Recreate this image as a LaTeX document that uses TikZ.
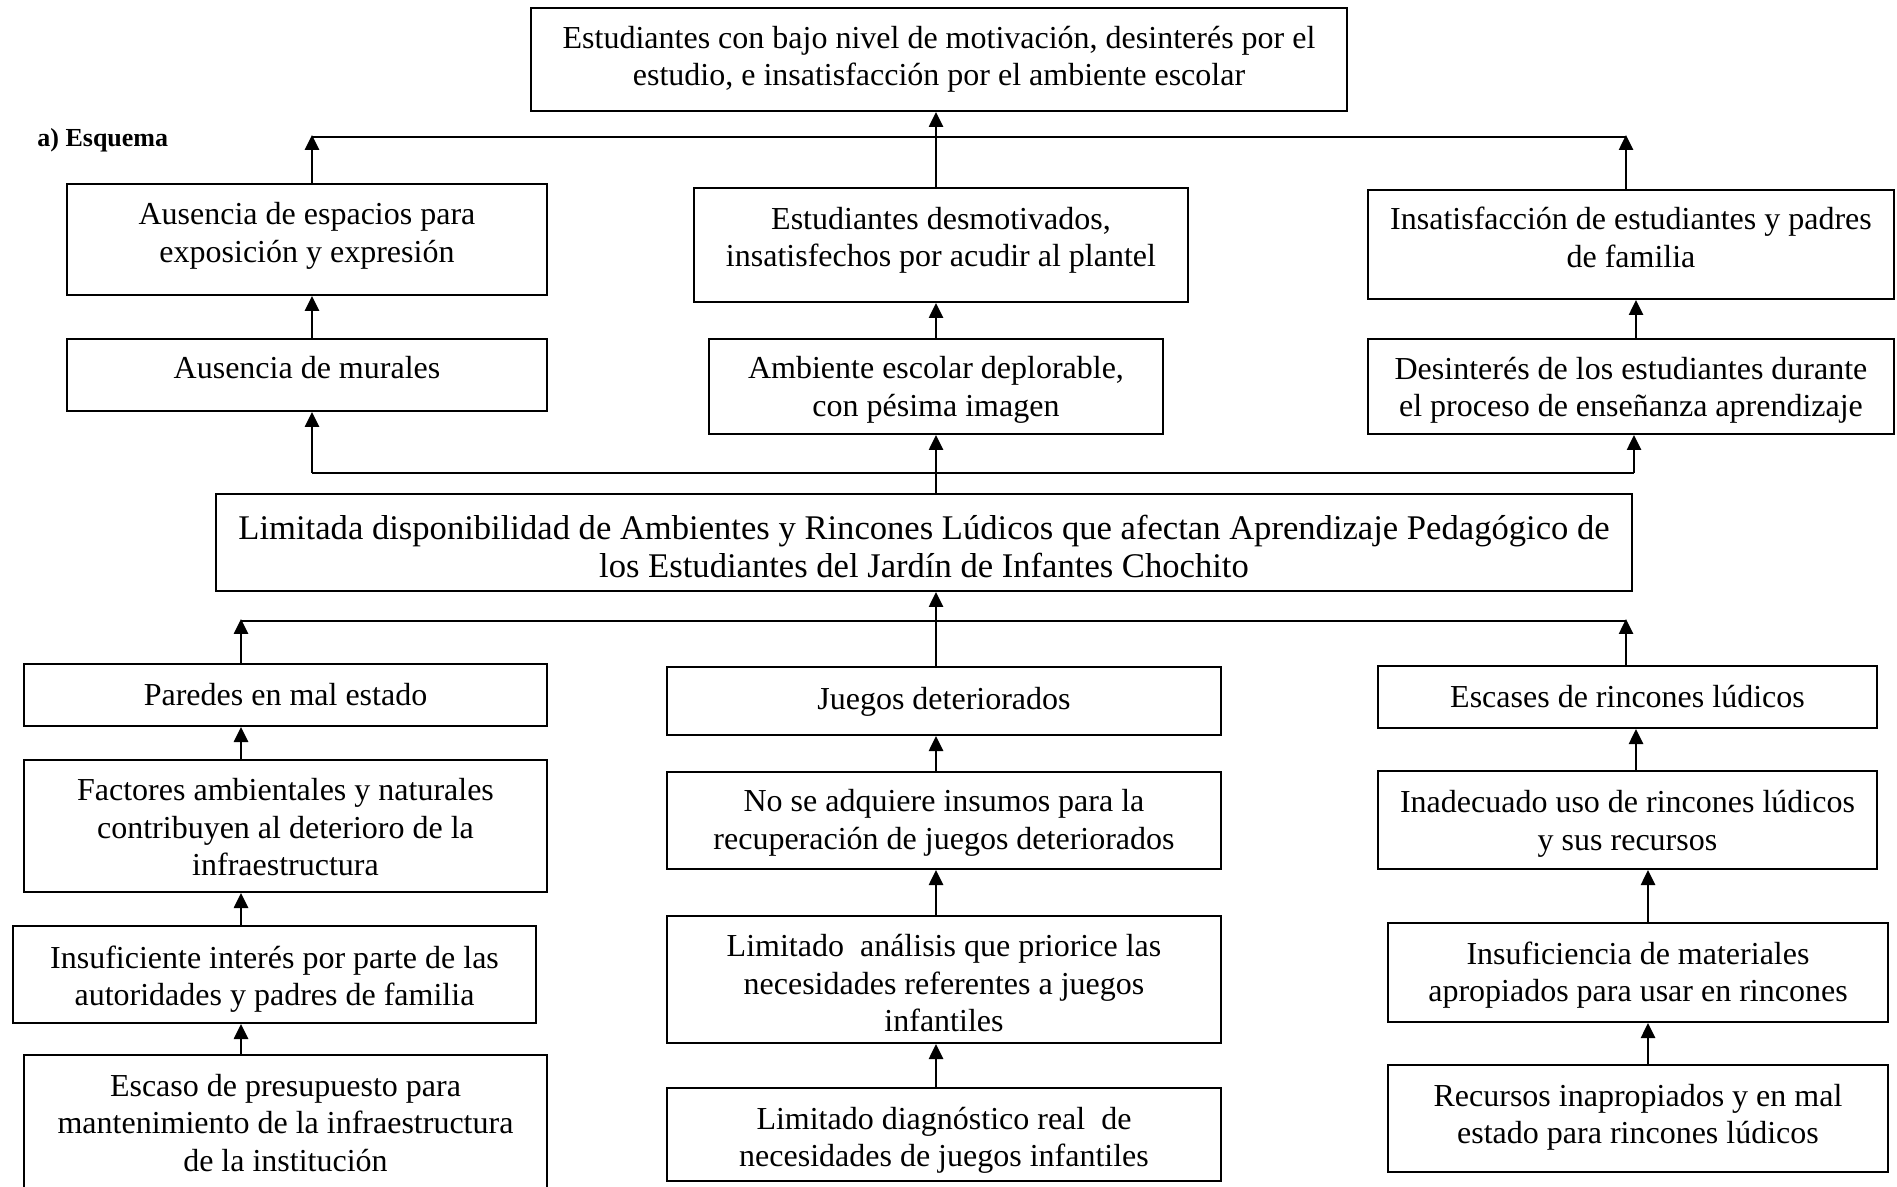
\documentclass[tikz,border=0pt]{standalone}
\usepackage{fontspec}
\setmainfont{Liberation Serif}
\usetikzlibrary{arrows.meta}
% \bx[style]{name}{x1}{y1}{x2}{y2}{text shift}{text}
\newcommand\bx[8][]{%
  \node[frame, minimum width={(#5-#3)*0.5pt}, minimum height={(#6-#4)*0.5pt}] (#2) at ({(#3+#5)/2},{(#4+#6)/2}) {};
  \node[txt,#1] (#2t) at ({(#3+#5)/2},{(#4+#6)/2+#7}) {#8};}
\begin{document}
\begin{tikzpicture}[x=0.5pt,y=-0.5pt,
  frame/.style={draw, line width=1pt, inner sep=0pt},
  txt/.style={inner sep=0pt, align=center, font=\fontsize{16}{18.75}\selectfont},
  big/.style={font=\fontsize{17.3}{19}\selectfont},
  arr/.style={line width=1.3pt, -{Triangle[width=7pt,length=7.5pt]}},
  ln/.style={line width=1.3pt}]
\useasboundingbox (0,0) rectangle (1897,1187);

\node[anchor=west, inner sep=0pt, font=\bfseries\fontsize{13}{15}\selectfont] (lab) at (37,140) {a) Esquema};

% effects
\bx{T}{531}{8}{1347}{111}{0}{Estudiantes con bajo nivel de motivación, desinterés por el\\estudio, e insatisfacción por el ambiente escolar}
\bx{EA}{67}{184}{547}{295}{-3.6}{Ausencia de espacios para\\exposición y expresión}
\bx{EB}{694}{188}{1188}{302}{-4.8}{Estudiantes desmotivados,\\insatisfechos por acudir al plantel}
\bx{EC}{1368}{190}{1894}{299}{-7.3}{Insatisfacción de estudiantes y padres\\de familia}
\bx{EA2}{67}{339}{547}{411}{-7.3}{Ausencia de murales}
\bx{EB2}{709}{339}{1163}{434}{3.6}{Ambiente escolar deplorable,\\con pésima imagen}
\bx{EC2}{1368}{339}{1894}{434}{3.6}{Desinterés de los estudiantes durante\\el proceso de enseñanza aprendizaje}

% problem
\bx[big]{P}{216}{494}{1632}{591}{3.6}{Limitada disponibilidad de Ambientes y Rincones Lúdicos que afectan Aprendizaje Pedagógico de\\los Estudiantes del Jardín de Infantes Chochito}

% causes
\bx{CA}{24}{664}{547}{726}{0}{Paredes en mal estado}
\bx{CA2}{24}{760}{547}{892}{1.2}{Factores ambientales y naturales\\contribuyen al deterioro de la\\infraestructura}
\bx{CA3}{13}{926}{536}{1023}{4.8}{Insuficiente interés por parte de las\\autoridades y padres de familia}
\bx{CA4}{24}{1055}{547}{1200}{-4.8}{Escaso de presupuesto para\\mantenimiento de la infraestructura\\de la institución}

\bx{CB}{667}{667}{1221}{735}{1.2}{Juegos deteriorados}
\bx{CB2}{667}{772}{1221}{869}{2.4}{No se adquiere insumos para la\\recuperación de juegos deteriorados}
\bx{CB3}{667}{916}{1221}{1043}{3.6}{Limitado\ \ análisis que priorice las\\necesidades referentes a juegos\\infantiles}
\bx{CB4}{667}{1088}{1221}{1181}{6}{Limitado diagnóstico real\ \ de\\necesidades de juegos infantiles}

\bx{CC}{1378}{666}{1877}{728}{0}{Escases de rincones lúdicos}
\bx{CC2}{1378}{771}{1877}{869}{3.6}{Inadecuado uso de rincones lúdicos\\y sus recursos}
\bx{CC3}{1388}{923}{1888}{1022}{2.4}{Insuficiencia de materiales\\apropiados para usar en rincones}
\bx{CC4}{1388}{1065}{1888}{1172}{-1.2}{Recursos inapropiados y en mal\\estado para rincones lúdicos}

% guide coordinates
\coordinate (xc) at (936,0);
\coordinate (xr2) at (1636,0);
\coordinate (xr3) at (1648,0);
\coordinate (tl) at (312,137);
\coordinate (tr) at (1626,137);
\coordinate (ml) at (312,473);
\coordinate (mr) at (1634,473);
\coordinate (bl) at (241,621);
\coordinate (br) at (1626,621);

% top connectors
\draw[ln] (tl) -- (tr);
\draw[arr] (EA.north -| tl) -- ([yshift=1pt]tl);
\draw[arr] (EC.north -| tr) -- ([yshift=1pt]tr);
\draw[arr] (EB.north -| xc) -- (T.south -| xc);
\draw[arr] (EA2.north -| tl) -- (EA.south -| tl);
\draw[arr] (EB2.north -| xc) -- (EB.south -| xc);
\draw[arr] (EC2.north -| xr2) -- (EC.south -| xr2);
\draw[ln] (ml) -- (mr);
\draw[arr] (ml) -- (EA2.south -| ml);
\draw[arr] (mr) -- (EC2.south -| mr);
\draw[arr] (P.north -| xc) -- (EB2.south -| xc);

% bottom connectors
\draw[ln] (bl) -- (br);
\draw[arr] (CA.north -| bl) -- ([yshift=1pt]bl);
\draw[arr] (CC.north -| br) -- ([yshift=1pt]br);
\draw[arr] (CB.north -| xc) -- (P.south -| xc);
\draw[arr] (CA2.north -| bl) -- (CA.south -| bl);
\draw[arr] (CA3.north -| bl) -- (CA2.south -| bl);
\draw[arr] (CA4.north -| bl) -- (CA3.south -| bl);
\draw[arr] (CB2.north -| xc) -- (CB.south -| xc);
\draw[arr] (CB3.north -| xc) -- (CB2.south -| xc);
\draw[arr] (CB4.north -| xc) -- (CB3.south -| xc);
\draw[arr] (CC2.north -| xr2) -- (CC.south -| xr2);
\draw[arr] (CC3.north -| xr3) -- (CC2.south -| xr3);
\draw[arr] (CC4.north -| xr3) -- (CC3.south -| xr3);
\end{tikzpicture}
\end{document}
